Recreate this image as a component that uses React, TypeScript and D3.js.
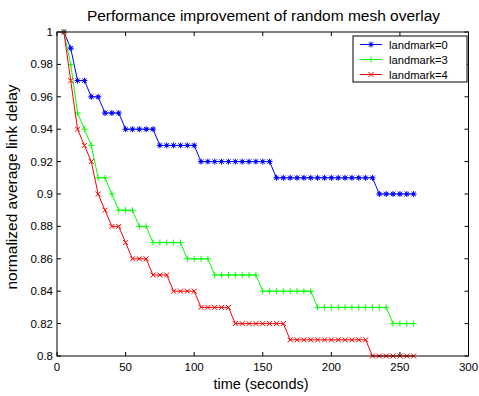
import { FC, useEffect } from "react";
import * as d3 from "d3";

// data (time in seconds, normalized delay)
const times = d3.range(5, 261, 5);

const stepsLandmark0: [number, number][] = [
  [5, 1], [10, 0.99], [15, 0.97], [25, 0.96], [35, 0.95], [50, 0.94],
  [75, 0.93], [105, 0.92], [160, 0.91], [235, 0.9],
];
const stepsLandmark3: [number, number][] = [
  [5, 1], [10, 0.98], [15, 0.95], [20, 0.94], [25, 0.93], [30, 0.91],
  [40, 0.9], [45, 0.89], [60, 0.88], [70, 0.87], [95, 0.86], [115, 0.85],
  [150, 0.84], [190, 0.83], [245, 0.82],
];
const stepsLandmark4: [number, number][] = [
  [5, 1], [10, 0.97], [15, 0.94], [20, 0.93], [25, 0.92], [30, 0.9],
  [35, 0.89], [40, 0.88], [50, 0.87], [55, 0.86], [70, 0.85], [85, 0.84],
  [105, 0.83], [130, 0.82], [170, 0.81], [230, 0.8],
];

const seriesNames = ["landmark=0", "landmark=3", "landmark=4"];
const seriesColors = ["#0000ff", "#00ff00", "#ff0000"];
const seriesMarkers = ["star", "plus", "cross"];

const xTicks = [0, 50, 100, 150, 200, 250, 300];
const yTicks = [0.8, 0.82, 0.84, 0.86, 0.88, 0.9, 0.92, 0.94, 0.96, 0.98, 1];

const expand = (steps: [number, number][]) =>
  times.map((t) => {
    let v = steps[0][1];
    for (const [s, val] of steps) if (t >= s) v = val;
    return { t, v };
  });

const allSeries = [stepsLandmark0, stepsLandmark3, stepsLandmark4].map(expand);

const W = 479;
const H = 396;
const margin = { left: 57, right: 10.5, top: 32, bottom: 40 };

const Marker: FC<{ kind: string; x: number; y: number; color: string }> = ({
  kind,
  x,
  y,
  color,
}) => {
  const r = 3;
  if (kind === "plus")
    return (
      <path
        d={`M${x - r},${y}H${x + r}M${x},${y - r}V${y + r}`}
        stroke={color}
        strokeWidth={1}
      />
    );
  if (kind === "cross")
    return (
      <path
        d={`M${x - 2.5},${y - 2.5}L${x + 2.5},${y + 2.5}M${x - 2.5},${y + 2.5}L${x + 2.5},${y - 2.5}`}
        stroke={color}
        strokeWidth={1}
      />
    );
  const d = 2.2;
  return (
    <g stroke={color} strokeWidth={1}>
      <path
        d={`M${x - r},${y}H${x + r}M${x},${y - r}V${y + r}M${x - d},${y - d}L${x + d},${y + d}M${x - d},${y + d}L${x + d},${y - d}`}
      />
      <circle cx={x} cy={y} r={1.6} fill={color} stroke="none" />
    </g>
  );
};

const App: FC = () => {
  useEffect(() => {
    document.body.style.margin = "0";
  }, []);

  const x = d3.scaleLinear().domain([0, 300]).range([margin.left, W - margin.right]);
  const y = d3.scaleLinear().domain([0.8, 1]).range([H - margin.bottom, margin.top]);
  const line = d3
    .line<{ t: number; v: number }>()
    .x((d) => x(d.t))
    .y((d) => y(d.v));

  const x0 = x.range()[0];
  const x1 = x.range()[1];
  const y0 = y.range()[0];
  const y1 = y.range()[1];
  const tick = 4;
  const font = "'Liberation Sans', Arial, sans-serif";

  const legend = { left: 353, top: 36, width: 114, height: 46 };

  return (
    <svg width={W} height={H} style={{ display: "block", background: "#fff" }} fontFamily={font}>
      <rect width={W} height={H} fill="#fff" />
      <text x={263.5} y={21} textAnchor="middle" fontSize={15.5}>
        Performance improvement of random mesh overlay
      </text>

      {allSeries.map((s, i) => (
        <g key={seriesNames[i]}>
          <path d={line(s)!} fill="none" stroke={seriesColors[i]} strokeWidth={1} />
          {s.map((d) => (
            <Marker key={d.t} kind={seriesMarkers[i]} x={x(d.t)} y={y(d.v)} color={seriesColors[i]} />
          ))}
        </g>
      ))}

      {/* axes box and ticks */}
      <rect x={x0} y={y1} width={x1 - x0} height={y0 - y1} fill="none" stroke="#000" strokeWidth={1} />
      {xTicks.map((t) => (
        <g key={t}>
          <line x1={x(t)} x2={x(t)} y1={y0} y2={y0 - tick} stroke="#000" />
          <line x1={x(t)} x2={x(t)} y1={y1} y2={y1 + tick} stroke="#000" />
          <text x={x(t)} y={y0 + 15} textAnchor="middle" fontSize={11.5}>
            {t}
          </text>
        </g>
      ))}
      {yTicks.map((t) => (
        <g key={t}>
          <line x1={x0} x2={x0 + tick} y1={y(t)} y2={y(t)} stroke="#000" />
          <line x1={x1} x2={x1 - tick} y1={y(t)} y2={y(t)} stroke="#000" />
          <text x={x0 - 4} y={y(t) + 4} textAnchor="end" fontSize={11.5}>
            {d3.format("~g")(t)}
          </text>
        </g>
      ))}

      <text x={261} y={389} textAnchor="middle" fontSize={14.5}>
        time (seconds)
      </text>
      <text
        transform={`translate(17,187) rotate(-90)`}
        textAnchor="middle"
        fontSize={15.5}
      >
        normalized average link delay
      </text>

      {/* legend */}
      <rect
        x={legend.left}
        y={legend.top}
        width={legend.width}
        height={legend.height}
        fill="#fff"
        stroke="#000"
      />
      {seriesNames.map((name, i) => {
        const ly = legend.top + 8.5 + i * 15;
        return (
          <g key={name}>
            <line x1={360} x2={382} y1={ly} y2={ly} stroke={seriesColors[i]} />
            <Marker kind={seriesMarkers[i]} x={371} y={ly} color={seriesColors[i]} />
            <text x={389} y={ly + 4} fontSize={11.2}>
              {name}
            </text>
          </g>
        );
      })}
    </svg>
  );
};

export default App;
